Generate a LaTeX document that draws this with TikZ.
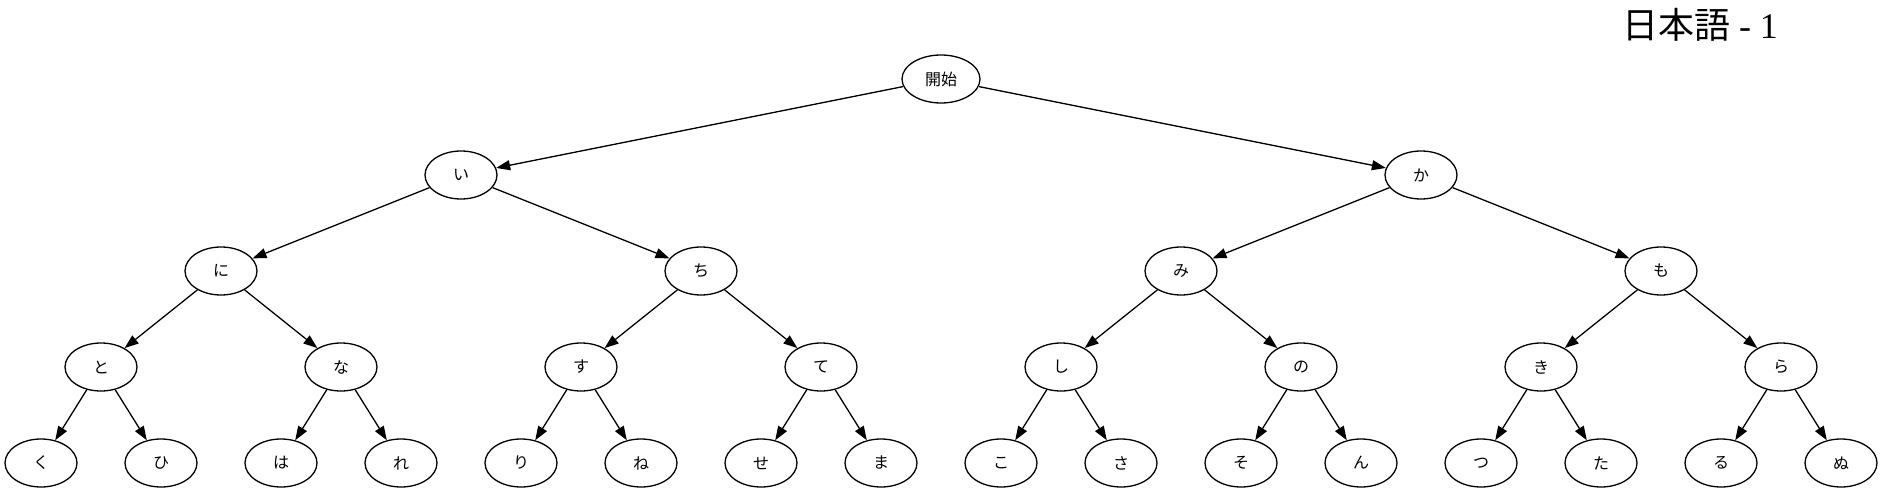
\documentclass[tikz,border=0pt]{standalone}
\usepackage{fontspec}
\setmainfont{Liberation Serif}
\newfontfamily\cjk{Noto Sans CJK JP}
\usetikzlibrary{shapes.geometric,arrows.meta}
\tikzset{
  tnode/.style={ellipse, draw, line width=1.3pt, minimum width=72pt, minimum height=48pt, inner sep=0pt, font=\cjk\fontsize{16}{16}\selectfont},
  rootnode/.style={tnode, minimum width=78pt},
  edge/.style={draw, line width=1.3pt, -{Triangle[length=14pt,width=10pt]}}
}
\begin{document}
\begin{tikzpicture}[x=1pt,y=-1pt]
\useasboundingbox (0,0) rectangle (1883,492);
\node[font=\fontsize{36}{36}\selectfont] (title) at (1700,25) {{\cjk 日本語} - 1};
\node[rootnode] (r) at (941,79) {開始};
\node[tnode] (a) at (461,175) {い};
\node[tnode] (b) at (1421,175) {か};
\node[tnode] (aa) at (221,271) {に};
\node[tnode] (ab) at (701,271) {ち};
\node[tnode] (ba) at (1181,271) {み};
\node[tnode] (bb) at (1661,271) {も};
\node[tnode] (aaa) at (101,367) {と};
\node[tnode] (aab) at (341,367) {な};
\node[tnode] (aba) at (581,367) {す};
\node[tnode] (abb) at (821,367) {て};
\node[tnode] (baa) at (1061,367) {し};
\node[tnode] (bab) at (1301,367) {の};
\node[tnode] (bba) at (1541,367) {き};
\node[tnode] (bbb) at (1781,367) {ら};
\node[tnode] (l1) at (41,463) {く};
\node[tnode] (l2) at (161,463) {ひ};
\node[tnode] (l3) at (281,463) {は};
\node[tnode] (l4) at (401,463) {れ};
\node[tnode] (l5) at (521,463) {り};
\node[tnode] (l6) at (641,463) {ね};
\node[tnode] (l7) at (761,463) {せ};
\node[tnode] (l8) at (881,463) {ま};
\node[tnode] (l9) at (1001,463) {こ};
\node[tnode] (l10) at (1121,463) {さ};
\node[tnode] (l11) at (1241,463) {そ};
\node[tnode] (l12) at (1361,463) {ん};
\node[tnode] (l13) at (1481,463) {つ};
\node[tnode] (l14) at (1601,463) {た};
\node[tnode] (l15) at (1721,463) {る};
\node[tnode] (l16) at (1841,463) {ぬ};
\foreach \p/\c in {r/a,r/b,a/aa,a/ab,b/ba,b/bb,aa/aaa,aa/aab,ab/aba,ab/abb,ba/baa,ba/bab,bb/bba,bb/bbb,aaa/l1,aaa/l2,aab/l3,aab/l4,aba/l5,aba/l6,abb/l7,abb/l8,baa/l9,baa/l10,bab/l11,bab/l12,bba/l13,bba/l14,bbb/l15,bbb/l16}
  \draw[edge] (\p) -- (\c);
\end{tikzpicture}
\end{document}
